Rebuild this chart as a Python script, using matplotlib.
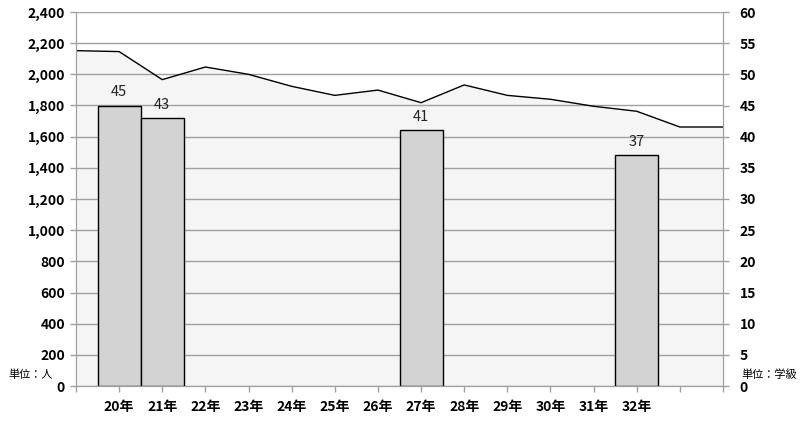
import numpy as np
import matplotlib
matplotlib.use("Agg")
import matplotlib.pyplot as plt

plt.rcParams['font.family'] = ['Noto Sans CJK JP', 'DejaVu Sans']

#児童数 (left axis, people) - 16 points, first and last two unlabelled
pupils = [2152, 2146, 1966, 2047, 2000, 1923, 1865, 1899, 1818, 1932,
          1865, 1840, 1795, 1763, 1662, 1662]
year_labels = ['', '20年', '21年', '22年', '23年', '24年', '25年', '26年', '27年',
               '28年', '29年', '30年', '31年', '32年', '', '']
# 学級数 (right axis, classes)
class_idx = [1, 2, 8, 13]
classes = [45, 43, 41, 37]

x = np.arange(len(pupils))
grey = '#a0a0a0'

fig = plt.figure(figsize=(8.02, 4.24), dpi=100)
ax = fig.add_axes([76/802, 1-386/424, (723-76)/802, (386-12)/424])
ax2 = ax.twinx()

ax.fill_between(x, pupils, 0, color='#f5f5f5', zorder=1, linewidth=0)
ax.plot(x, pupils, color='black', linewidth=1.0, zorder=3)
ax.set_xlim(0, 15)
ax.set_ylim(0, 2400)
ax.set_yticks(range(0, 2401, 200))
ax.set_yticklabels([f'{v:,}' for v in range(0, 2401, 200)])
ax.yaxis.grid(True, color=grey, linewidth=1.0)
ax.set_axisbelow(False)
ax.set_xticks(x)
ax.set_xticklabels(year_labels)

bars = ax2.bar(class_idx, classes, width=1.0, color='#d3d3d3',
               edgecolor='black', linewidth=1.0, zorder=2)
for xi, v in zip(class_idx, classes):
    ax2.text(xi, v + 1.0, str(v), ha='center', va='bottom', fontsize=10.5,
             color='#222222')
ax2.set_ylim(0, 60)
ax2.set_yticks(range(0, 61, 5))

for a in (ax, ax2):
    for s in a.spines.values():
        s.set_color(grey)
    a.spines['top'].set_visible(False)
    a.tick_params(color=grey, length=4, width=1)

ax.tick_params(axis='y', labelsize=10, pad=4)
ax2.tick_params(axis='y', labelsize=10, pad=8)
ax.tick_params(axis='x', labelsize=10, pad=6)
for lab in ax.get_yticklabels() + ax2.get_yticklabels() + ax.get_xticklabels():
    lab.set_fontweight('bold')

fig.text(8/802, 1-375/424, '単位：人', fontsize=8, va='center', ha='left')
fig.text(741/802, 1-375/424, '単位：学級', fontsize=8, va='center', ha='left')

fig.savefig('out.png', dpi=100)
